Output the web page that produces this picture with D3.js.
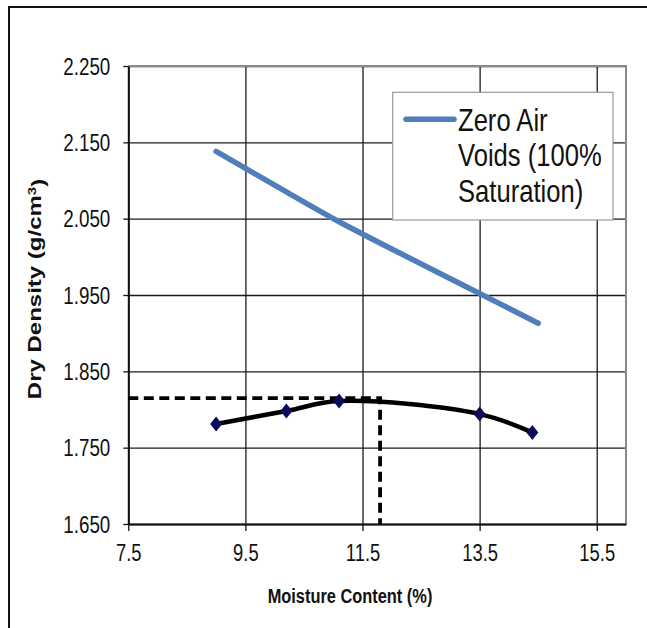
<!DOCTYPE html>
<html>
<head>
<meta charset="utf-8">
<script src="https://cdn.jsdelivr.net/npm/d3@7"></script>
<style>
  body { margin: 0; background: #fff; }
  text { font-family: "Liberation Sans", Arial, sans-serif; fill: #111; }
</style>
</head>
<body>
<div id="chart"></div>
<script>
// compaction test values
var moisture = [9.0, 10.2, 11.1, 13.5, 14.4];
var dryDensity = [1.781, 1.798, 1.811, 1.794, 1.770];
// zero air voids line
var zavMoisture = [9.0, 10.2, 11.1, 13.5, 14.5];
var zavDensity = [2.138, 2.085, 2.046, 1.952, 1.913];
// optimum moisture content / max dry density
var optimum = [11.8, 1.815];
var xTicks = [7.5, 9.5, 11.5, 13.5, 15.5];
var yTicks = [1.65, 1.75, 1.85, 1.95, 2.05, 2.15, 2.25];
var legendLines = ["Zero Air", "Voids (100%", "Saturation)"];

var width = 647, height = 628;
var pLeft = 128.3, pRight = 626, pTop = 66, pBottom = 524;
var squeeze = 0.8; // the picture text is narrow

var svg = d3.select("#chart").append("svg")
    .attr("width", width)
    .attr("height", height);

// outer frame (only top and left edges show)
svg.append("path")
    .attr("d", "M9,628V7H647")
    .style("fill", "none")
    .style("stroke", "#111")
    .style("stroke-width", 2);

var x = d3.scaleLinear().domain([7.5, 16.0]).range([pLeft, pRight]);
var y = d3.scaleLinear().domain([1.65, 2.25]).range([pBottom, pTop]);

// grid
svg.append("g")
    .attr("transform", "translate(0," + pBottom + ")")
    .call(d3.axisBottom(x).tickValues(xTicks).tickSize(-(pBottom - pTop)).tickFormat(""))
    .call(function(g) { g.select(".domain").remove(); })
    .selectAll("line").style("stroke", "#1a1a1a").style("stroke-width", 1.3);

svg.append("g")
    .attr("transform", "translate(" + pLeft + ",0)")
    .call(d3.axisLeft(y).tickValues(yTicks).tickSize(-(pRight - pLeft)).tickFormat(""))
    .call(function(g) { g.select(".domain").remove(); })
    .selectAll("line").style("stroke", "#1a1a1a").style("stroke-width", 1.3);

// top and right border, grey
svg.append("path")
    .attr("d", "M" + pLeft + "," + pTop + "H" + pRight + "V" + pBottom)
    .style("fill", "none")
    .style("stroke", "#8a8a8a")
    .style("stroke-width", 2);

// axes
var xAxis = svg.append("g")
    .attr("transform", "translate(0," + pBottom + ")")
    .call(d3.axisBottom(x).tickValues(xTicks).tickSize(7).tickSizeOuter(0).tickFormat(d3.format(".1f")));
xAxis.select(".domain").style("stroke", "#111").style("stroke-width", 2);
xAxis.selectAll("line").style("stroke", "#111").style("stroke-width", 1.3);
xAxis.selectAll("text")
    .attr("y", 37.5)
    .attr("dy", 0)
    .attr("transform", "scale(" + squeeze + ",1)")
    .style("font-size", "23px");

var yAxis = svg.append("g")
    .attr("transform", "translate(" + pLeft + ",0)")
    .call(d3.axisLeft(y).tickValues(yTicks).tickSize(5).tickSizeOuter(0).tickFormat(d3.format(".3f")));
yAxis.select(".domain").style("stroke", "#111").style("stroke-width", 2);
yAxis.selectAll("line").style("stroke", "#111").style("stroke-width", 1.3);
yAxis.selectAll("text")
    .attr("x", -18 / squeeze)
    .attr("dy", "0.35em")
    .attr("transform", "scale(" + squeeze + ",1)")
    .style("font-size", "23.5px");

// axis titles
svg.append("text")
    .attr("transform", "translate(350,602.5) scale(0.78,1)")
    .attr("text-anchor", "middle")
    .style("font-size", "21px")
    .style("font-weight", "bold")
    .text("Moisture Content (%)");

var yTitle = svg.append("text")
    .attr("transform", "translate(41,289) scale(0.75,1) rotate(-90)")
    .attr("text-anchor", "middle")
    .style("font-size", "24px")
    .style("font-weight", "bold");
yTitle.append("tspan").text("Dry Density (g/cm");
yTitle.append("tspan").attr("dy", "-0.45em").style("font-size", "15px").text("3");
yTitle.append("tspan").attr("dy", "0.45em").text(")");

var line = d3.line()
    .x(function(d) { return x(d[0]); })
    .y(function(d) { return y(d[1]); })
    .curve(d3.curveCatmullRom.alpha(0.5));

// zero air voids line
var zav = zavMoisture.map(function(m, i) { return [m, zavDensity[i]]; });
svg.append("path")
    .datum(zav)
    .attr("d", line)
    .style("fill", "none")
    .style("stroke", "#4f7fba")
    .style("stroke-width", 5.5)
    .style("stroke-linecap", "round");

// dashed optimum lines
svg.append("path")
    .attr("d", "M" + x(7.5) + "," + y(optimum[1]) + "H" + x(optimum[0]) + "V" + y(1.65))
    .style("fill", "none")
    .style("stroke", "#000")
    .style("stroke-width", 3.8)
    .style("stroke-dasharray", "10,5.5");

// compaction curve
var pts = moisture.map(function(m, i) { return [m, dryDensity[i]]; });
svg.append("path")
    .datum(pts)
    .attr("d", line)
    .style("fill", "none")
    .style("stroke", "#000")
    .style("stroke-width", 4.5);

svg.selectAll(".npoint")
    .data(pts)
    .enter()
    .append("path")
    .attr("class", "npoint")
    .attr("d", "M0,-7.5L6,0L0,7.5L-6,0Z")
    .attr("transform", function(d) { return "translate(" + x(d[0]) + "," + y(d[1]) + ")"; })
    .style("fill", "#0b0b5c");

// legend
var legend = svg.append("g");
legend.append("rect")
    .attr("x", 392.7).attr("y", 92.3)
    .attr("width", 220.3).attr("height", 127.7)
    .style("fill", "#fff")
    .style("stroke", "#9a9a9a")
    .style("stroke-width", 1.2);
legend.append("line")
    .attr("x1", 406).attr("x2", 454)
    .attr("y1", 119.3).attr("y2", 119.3)
    .style("stroke", "#4f7fba")
    .style("stroke-width", 5.5)
    .style("stroke-linecap", "round");
legend.selectAll(".lbl")
    .data(legendLines)
    .enter()
    .append("text")
    .attr("class", "lbl")
    .attr("transform", function(d, i) { return "translate(458," + (130.5 + i * 35.7) + ") scale(" + squeeze + ",1)"; })
    .style("font-size", "32px")
    .text(function(d) { return d; });
</script>
</body>
</html>
